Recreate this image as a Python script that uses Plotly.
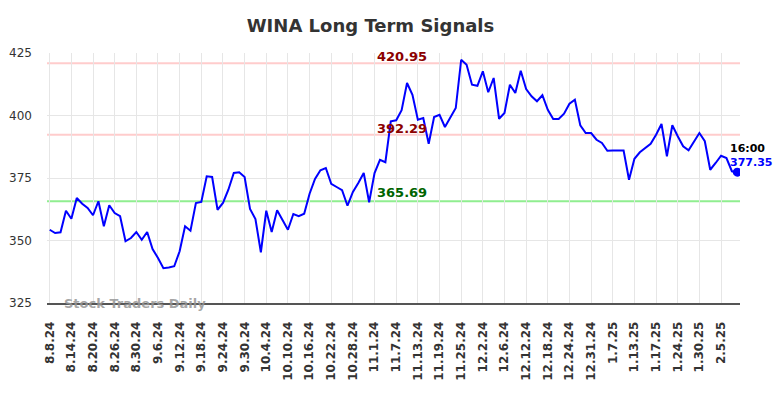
import pandas as pd
import plotly.graph_objects as go

# ---- data ----
holidays = ["2024-09-02", "2024-11-28", "2024-12-25", "2025-01-01", "2025-01-20"]
n_points = 128
bday = pd.offsets.CustomBusinessDay(holidays=holidays)
dates = pd.date_range("2024-08-08", periods=n_points, freq=bday)
date_labels = [f"{d.month}.{d.day}.{d.strftime('%y')}" for d in dates]

prices = [
    354.3, 353.0, 353.3, 361.9, 358.7, 367.0, 364.7, 363.0, 360.1, 365.7,
    355.7, 364.1, 361.0, 359.7, 349.7, 351.0, 353.4, 350.3, 353.4, 346.6,
    343.0, 338.9, 339.2, 339.7, 345.7, 355.7, 353.9, 365.0, 365.4, 375.7,
    375.4, 362.3, 365.0, 370.3, 377.0, 377.3, 375.4, 362.6, 358.6, 345.3,
    361.9, 353.4, 362.1, 358.3, 354.3, 360.6, 359.7, 360.7, 368.7, 374.6,
    378.1, 379.0, 372.7, 371.4, 370.1, 363.9, 369.4, 373.0, 377.0, 365.3,
    377.0, 382.3, 381.3, 397.7, 398.1, 402.1, 413.0, 408.3, 398.3, 399.0,
    388.7, 399.4, 400.3, 395.4, 399.3, 403.0, 422.3, 420.3, 412.3, 411.9,
    417.7, 409.3, 415.0, 398.7, 401.0, 412.3, 409.0, 417.9, 410.6, 407.7,
    405.7, 408.1, 402.3, 398.6, 398.6, 400.7, 404.7, 406.3, 396.1, 393.0,
    393.0, 390.3, 389.0, 385.9, 386.0, 386.0, 386.0, 374.3, 382.7, 385.3,
    387.0, 388.7, 392.3, 396.6, 383.7, 396.1, 391.7, 387.7, 386.1, 389.3,
    393.0, 389.7, 378.3, 381.0, 383.9, 383.0, 377.7, 377.35,
]

resistance_levels = [420.95, 392.29]
support_levels = [365.69]
last_time = "16:00"
y_ticks = [325, 350, 375, 400, 425]
tick_every = 4

tick_vals = date_labels[::tick_every]

fig = go.Figure()

fig.add_trace(go.Scatter(
    x=date_labels, y=prices, mode="lines",
    line=dict(color="#0000ff", width=2),
    hoverinfo="x+y", showlegend=False,
))
fig.add_trace(go.Scatter(
    x=[date_labels[-1]], y=[prices[-1]], mode="markers",
    marker=dict(color="#0000ff", size=9),
    showlegend=False,
))

label_x = date_labels[65]
for lv in resistance_levels:
    fig.add_shape(type="line", xref="paper", x0=0, x1=1, y0=lv, y1=lv,
                  line=dict(color="#ffcccc", width=2), layer="below")
    fig.add_annotation(x=label_x, y=lv, text=f"<b>{lv:.2f}</b>", showarrow=False,
                       yanchor="bottom", yshift=-3,
                       font=dict(color="#8b0000", size=13, family="DejaVu Sans"))
for lv in support_levels:
    fig.add_shape(type="line", xref="paper", x0=0, x1=1, y0=lv, y1=lv,
                  line=dict(color="#90ee90", width=2), layer="below")
    fig.add_annotation(x=label_x, y=lv, text=f"<b>{lv:.2f}</b>", showarrow=False,
                       yanchor="bottom", yshift=-1,
                       font=dict(color="#006400", size=13, family="DejaVu Sans"))

fig.add_annotation(x=date_labels[-1], y=prices[-1], text=f"<b>{last_time}</b>",
                   showarrow=False, xanchor="left", yanchor="bottom", xshift=-9, yshift=15,
                   font=dict(color="#000000", size=11, family="DejaVu Sans"))
fig.add_annotation(x=date_labels[-1], y=prices[-1], text=f"<b>{prices[-1]:.2f}</b>",
                   showarrow=False, xanchor="left", yanchor="bottom", xshift=-9, yshift=1,
                   font=dict(color="#0000ff", size=11, family="DejaVu Sans"))

fig.add_annotation(xref="paper", yref="paper", x=0.021, y=0, text="<b>Stock Traders Daily</b>",
                   showarrow=False, xanchor="left", yanchor="middle",
                   font=dict(color="rgba(150,150,150,0.85)", size=13, family="DejaVu Sans"))

fig.update_layout(
    width=784, height=398,
    margin=dict(l=47, r=44, t=53, b=95),
    paper_bgcolor="white", plot_bgcolor="white",
    title=dict(text="<b>WINA Long Term Signals</b>", x=0.4726, xanchor="center",
               y=0.935, yanchor="middle",
               font=dict(size=18, color="#333333", family="DejaVu Sans")),
    font=dict(family="DejaVu Sans", color="#333333"),
    hovermode="closest",
)
fig.update_xaxes(
    type="category", tickmode="array", tickvals=tick_vals, ticktext=tick_vals,
    tickangle=-90, range=[-0.5, n_points - 0.5],
    tickfont=dict(size=12, family="DejaVu Sans", color="#333333", weight="bold"),
    showgrid=True, gridcolor="#e6e6e6", gridwidth=1,
    showline=True, linecolor="#555555", linewidth=1.5,
    ticks="", zeroline=False, automargin=False, ticklabelstandoff=12,
)
fig.update_yaxes(
    range=[325, 425], tickmode="array", tickvals=y_ticks,
    tickfont=dict(size=12, family="DejaVu Sans", color="#333333"),
    showgrid=True, gridcolor="#e6e6e6", gridwidth=1,
    showline=False, zeroline=False, ticklabelstandoff=14, automargin=False,
)

fig.write_html(
    "out.html",
    config={"displayModeBar": False},
    post_script="document.body.style.margin='0';document.body.style.padding='0';",
)
